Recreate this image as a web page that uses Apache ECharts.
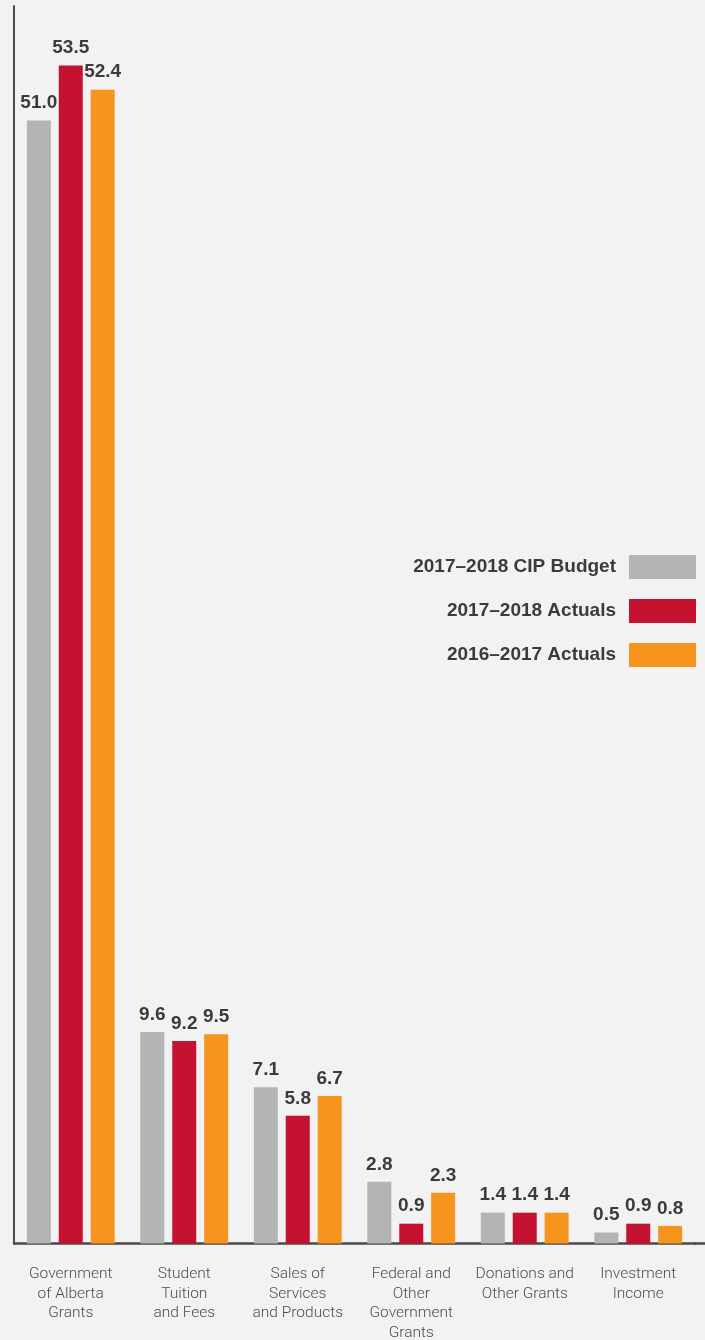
<!DOCTYPE html>
<html>
<head>
<meta charset="utf-8">
<title>Revenue by Source</title>
<script src="https://cdn.jsdelivr.net/npm/echarts@6/dist/echarts.min.js"></script>
<style>
  html, body { margin: 0; padding: 0; background: #f2f2f2; }
  #chart { width: 705px; height: 1340px; }
</style>
</head>
<body>
<div id="chart"></div>
<script>
// Revenue sources (millions)
const categories = [
  'Government\nof Alberta\nGrants',
  'Student\nTuition\nand Fees',
  'Sales of\nServices\nand Products',
  'Federal and\nOther\nGovernment\nGrants',
  'Donations and\nOther Grants',
  'Investment\nIncome'
];
const seriesNames = ['2017\u20132018 CIP Budget', '2017\u20132018 Actuals', '2016\u20132017 Actuals'];
const budget1718 = [51.0, 9.6, 7.1, 2.8, 1.4, 0.5];
const actuals1718 = [53.5, 9.2, 5.8, 0.9, 1.4, 0.9];
const actuals1617 = [52.4, 9.5, 6.7, 2.3, 1.4, 0.8];
const seriesColors = ['#b3b4b6', '#c41230', '#f7941e'];

const W = 705, H = 1340;
const gridLeft = 14, gridRight = 10, gridTop = 6, gridBottom = 96.5;

const chart = echarts.init(document.getElementById('chart'), null, { renderer: 'canvas' });

const labelStyle = {
  show: true,
  position: 'top',
  distance: 8,
  fontFamily: 'Liberation Sans',
  fontWeight: 'bold',
  fontSize: 19,
  color: '#3b3b3b',
  formatter: p => p.value.toFixed(1)
};

const values = [budget1718, actuals1718, actuals1617];

chart.setOption({
  backgroundColor: '#f2f2f2',
  animation: false,
  grid: {
    left: gridLeft, right: gridRight, top: gridTop, bottom: gridBottom,
    containLabel: false,
    outerBoundsMode: 'none'
  },
  legend: {
    orient: 'vertical',
    right: 9,
    top: 555,
    padding: 0,
    align: 'right',
    itemWidth: 67,
    itemHeight: 24,
    itemGap: 20,
    icon: 'rect',
    selectedMode: false,
    textStyle: {
      fontFamily: 'Liberation Sans',
      fontWeight: 'bold',
      fontSize: 19,
      color: '#3b3b3b',
      padding: [0, 8, 0, 0]
    },
    data: seriesNames
  },
  xAxis: {
    type: 'category',
    data: categories,
    axisLine: { show: true, lineStyle: { color: '#4a4a4a', width: 2.5 } },
    axisTick: { show: false },
    axisLabel: {
      interval: 0,
      margin: 21,
      fontFamily: 'Roboto',
      fontWeight: 300,
      fontSize: 15.5,
      lineHeight: 19.5,
      color: '#4d4d4d',
      align: 'center',
      verticalAlign: 'top'
    }
  },
  yAxis: {
    type: 'value',
    min: 0,
    max: 56.2,
    axisLine: { show: true, lineStyle: { color: '#4a4a4a', width: 2 } },
    axisTick: { show: false },
    axisLabel: { show: false },
    splitLine: { show: false }
  },
  series: seriesNames.map((name, i) => ({
    name: name,
    type: 'bar',
    data: values[i],
    barWidth: 24,
    barGap: '33%',
    itemStyle: { color: seriesColors[i] },
    label: labelStyle
  })),
  graphic: [{
    // carry the baseline on to the right edge of the page
    type: 'line',
    shape: { x1: W - gridRight - 1, y1: H - gridBottom, x2: W, y2: H - gridBottom },
    style: { stroke: '#4a4a4a', lineWidth: 2.5 },
    silent: true
  }]
});
</script>
</body>
</html>
